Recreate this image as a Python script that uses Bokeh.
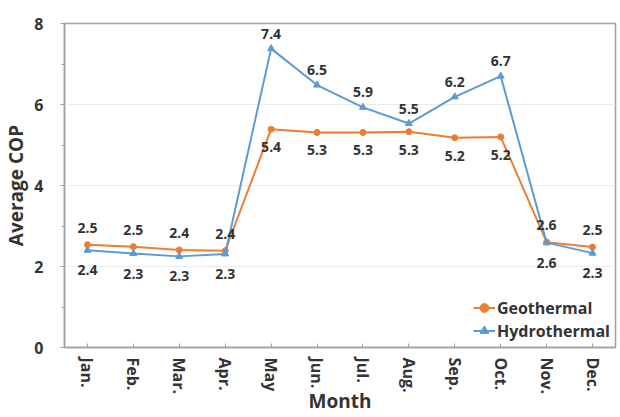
import math
from bokeh.plotting import figure
from bokeh.models import ColumnDataSource, Range1d, FactorRange, SingleIntervalTicker, Legend
from bokeh.core.properties import value
from bokeh.embed import file_html
from bokeh.resources import INLINE

months = ["Jan.", "Feb.", "Mar.", "Apr.", "May", "Jun.", "Jul.", "Aug.", "Sep.", "Oct.", "Nov.", "Dec."]
geothermal = [2.54, 2.49, 2.41, 2.39, 5.39, 5.31, 5.31, 5.33, 5.18, 5.20, 2.60, 2.48]
hydrothermal = [2.40, 2.32, 2.25, 2.31, 7.38, 6.48, 5.93, 5.53, 6.19, 6.70, 2.59, 2.33]
geo_labels = ["2.5", "2.5", "2.4", "2.4", "5.4", "5.3", "5.3", "5.3", "5.2", "5.2", "2.6", "2.5"]
hydro_labels = ["2.4", "2.3", "2.3", "2.3", "7.4", "6.5", "5.9", "5.5", "6.2", "6.7", "2.6", "2.3"]

ORANGE = "#ED7D31"
BLUE = "#5B9BD5"
FONT = "Open Sans"
TXT = "#333333"
GRAY = "#a0a0a0"

# label placement: the higher series gets its label above, the lower one below
geo_off = [-17 if g >= h else 18 for g, h in zip(geothermal, hydrothermal)]
hydro_off = [-15 if h > g else 20 for g, h in zip(geothermal, hydrothermal)]

src = ColumnDataSource(dict(m=months, geo=geothermal, hyd=hydrothermal,
                            gl=geo_labels, hl=hydro_labels, go=geo_off, ho=hydro_off))

p = figure(width=620, height=417, x_range=FactorRange(*months), y_range=Range1d(0, 8),
           output_backend="svg", toolbar_location=None,
           min_border_left=5, min_border_right=5, min_border_top=23, min_border_bottom=0)

p.outline_line_color = GRAY
p.outline_line_width = 1.5
p.background_fill_color = "white"
p.border_fill_color = "white"

p.xgrid.grid_line_color = None
p.ygrid.grid_line_color = "#ebebeb"
p.ygrid.grid_line_width = 1

p.yaxis.ticker = SingleIntervalTicker(interval=2, num_minor_ticks=2)
for ax in (p.xaxis[0], p.yaxis[0]):
    ax.axis_line_color = GRAY
    ax.axis_line_width = 1.5
    ax.major_tick_line_color = GRAY
    ax.minor_tick_line_color = GRAY
    ax.major_label_text_font = FONT
    ax.major_label_text_font_style = "bold"
    ax.major_label_text_color = TXT
    ax.axis_label_text_font = FONT
    ax.axis_label_text_font_style = "bold"
    ax.axis_label_text_color = TXT

p.yaxis.major_tick_in = 0
p.yaxis.major_tick_out = 4
p.yaxis.minor_tick_in = 0
p.yaxis.minor_tick_out = 3
p.yaxis.major_label_text_font_size = "16px"
p.yaxis.major_label_standoff = 17
p.yaxis.axis_label = "Average COP"
p.yaxis.axis_label_text_font_size = "19px"
p.yaxis.axis_label_standoff = 2

p.xaxis.major_tick_in = 4
p.xaxis.major_tick_out = 0
p.xaxis.major_label_orientation = -math.pi / 2
p.xaxis.major_label_text_font_size = "16px"
p.xaxis.major_label_standoff = 10
p.xaxis.axis_label = "Month"
p.xaxis.axis_label_text_font_size = "19px"
p.xaxis.axis_label_standoff = -9

lg = p.line("m", "geo", source=src, line_color=ORANGE, line_width=2)
sg = p.scatter("m", "geo", source=src, marker="circle", size=6, fill_color=ORANGE, line_color=ORANGE)
lh = p.line("m", "hyd", source=src, line_color=BLUE, line_width=2)
sh = p.scatter("m", "hyd", source=src, marker="triangle", size=7, fill_color=BLUE, line_color=BLUE)

p.text("m", "geo", text="gl", source=src, y_offset="go", text_align="center",
       text_baseline="middle", text_font=value(FONT), text_font_style="bold",
       text_font_size="14px", text_color=TXT)
p.text("m", "hyd", text="hl", source=src, y_offset="ho", text_align="center",
       text_baseline="middle", text_font=value(FONT), text_font_style="bold",
       text_font_size="14px", text_color=TXT)

legend = Legend(items=[("Geothermal", [lg, sg]), ("Hydrothermal", [lh, sh])],
                location="bottom_right")
legend.border_line_color = None
legend.background_fill_alpha = 0
legend.label_text_font = FONT
legend.label_text_font_style = "bold"
legend.label_text_font_size = "16px"
legend.label_text_color = TXT
legend.glyph_width = 22
legend.label_standoff = 2
legend.spacing = 0
legend.label_height = 23
legend.glyph_height = 23
legend.margin = 5
legend.padding = 2
p.add_layout(legend)

open("out.html", "w").write(file_html(p, INLINE))
